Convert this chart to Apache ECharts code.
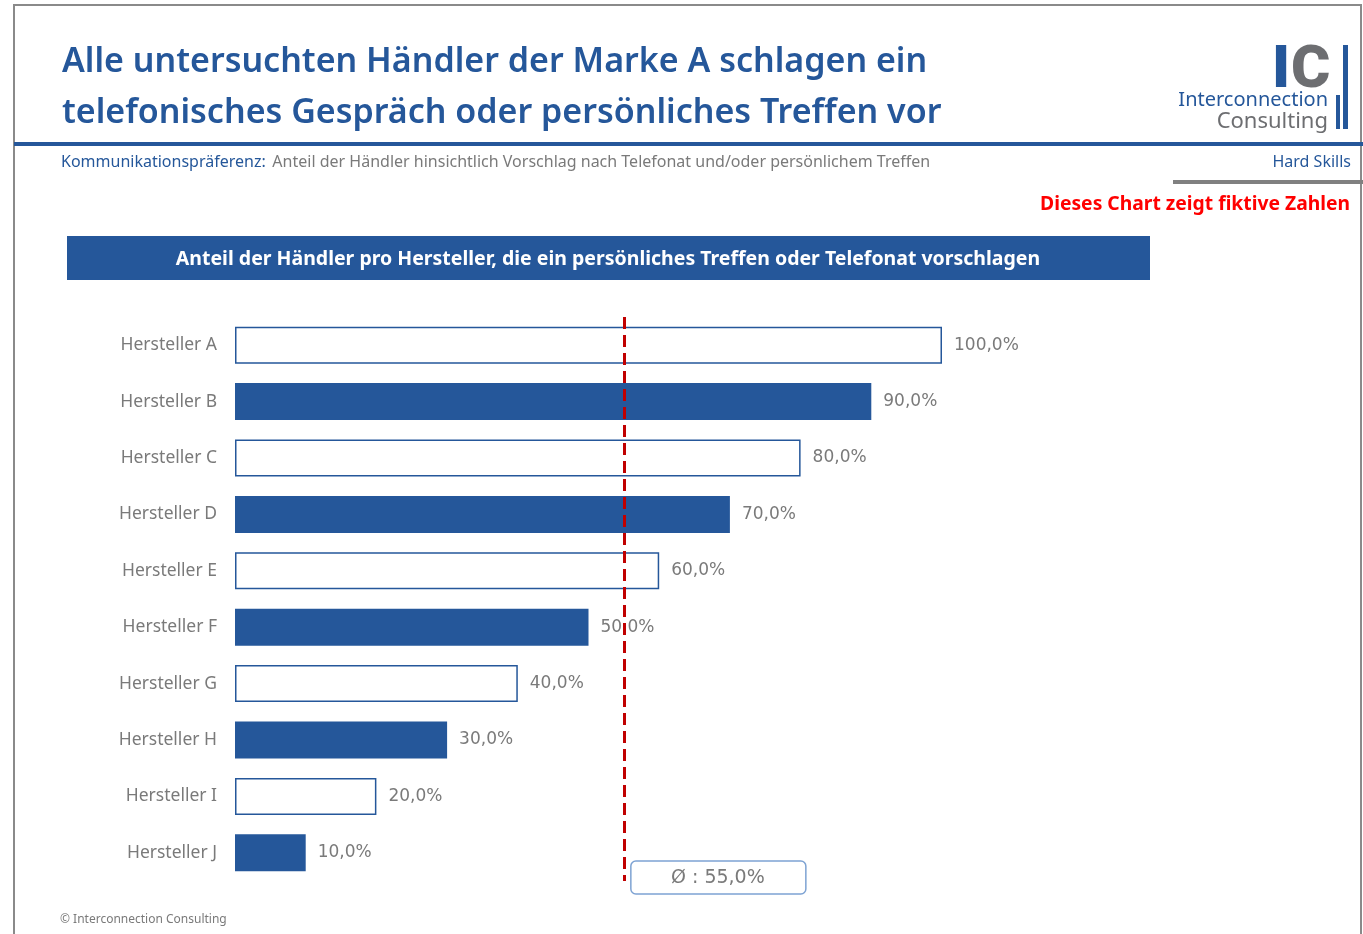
<!DOCTYPE html>
<html>
<head>
<meta charset="utf-8">
<script src="https://cdn.jsdelivr.net/npm/echarts@6/dist/echarts.min.js"></script>
<style>
  html, body { margin: 0; padding: 0; background: #fff; }
  #chart { width: 1363px; height: 934px; }
</style>
</head>
<body>
<div id="chart"></div>
<script>
// Daten
const categories = ['Hersteller A', 'Hersteller B', 'Hersteller C', 'Hersteller D', 'Hersteller E',
  'Hersteller F', 'Hersteller G', 'Hersteller H', 'Hersteller I', 'Hersteller J'];
const shares = [100.0, 90.0, 80.0, 70.0, 60.0, 50.0, 40.0, 30.0, 20.0, 10.0];
const avgShare = 55.0;

const BLUE = '#25579a';
const GRAY = '#7a7a7a';
const FONT = '"Noto Sans", Lato, sans-serif';
const NUM_FONT = '"DejaVu Sans", "Noto Sans", sans-serif';

const fmt = (v) => v.toFixed(1).replace('.', ',') + '%';

const myChart = echarts.init(document.getElementById('chart'));

const option = {
  animation: false,
  backgroundColor: '#fff',
  title: {
    text: 'Alle untersuchten Händler der Marke A schlagen ein\ntelefonisches Gespräch oder persönliches Treffen vor',
    left: 57,
    top: 32,
    textStyle: {
      color: BLUE,
      fontFamily: FONT,
      fontSize: 34,
      fontWeight: 600,
      lineHeight: 51,
    },
  },
  grid: {
    left: 235,
    right: 1363 - 942,
    top: 317,
    height: 564,
    containLabel: false,
  },
  xAxis: {
    type: 'value',
    min: 0,
    max: 100,
    show: false,
  },
  yAxis: {
    type: 'category',
    data: categories,
    inverse: true,
    axisLine: { show: false },
    axisTick: { show: false },
    axisLabel: {
      margin: 18,
      color: GRAY,
      fontFamily: FONT,
      fontSize: 17.5,
    },
  },
  series: [{
    type: 'bar',
    barWidth: 37,
    data: shares.map((v, i) => ({
      value: v,
      itemStyle: i % 2 === 0
        ? { color: '#fff', borderColor: BLUE, borderWidth: 1.5 }
        : { color: BLUE },
    })),
    label: {
      show: true,
      position: 'right',
      distance: 12,
      color: GRAY,
      fontFamily: NUM_FONT,
      fontSize: 17,
      formatter: (p) => fmt(p.value),
    },
    markLine: {
      silent: true,
      symbol: 'none',
      label: { show: false },
      lineStyle: { color: '#c00000', width: 3, type: [12, 6] },
      data: [{ xAxis: avgShare }],
    },
  }],
};

myChart.setOption(option);

// Position der Durchschnittsbox aus der Achse
const avgX = myChart.convertToPixel({ xAxisIndex: 0 }, avgShare);

myChart.setOption({
  graphic: [
    // Rahmen
    { type: 'rect', shape: { x: 14, y: 5, width: 1347, height: 960 }, style: { fill: 'none', stroke: '#8a8a8a', lineWidth: 2 }, silent: true },
    // blaue Linie unter Titel
    { type: 'rect', shape: { x: 14, y: 142, width: 1349, height: 4 }, style: { fill: BLUE } },
    // graue Linie rechts
    { type: 'rect', shape: { x: 1173, y: 180, width: 190, height: 4 }, style: { fill: '#808080' } },
    // Untertitel
    {
      type: 'text', left: 61, top: 154,
      style: {
        text: '{a|Kommunikationspräferenz:}  {b|Anteil der Händler hinsichtlich Vorschlag nach Telefonat und/oder persönlichem Treffen}',
        rich: {
          a: { fill: BLUE, fontFamily: FONT, fontSize: 16 },
          b: { fill: GRAY, fontFamily: FONT, fontSize: 16 },
        },
      },
    },
    { type: 'text', right: 12, top: 154, style: { text: 'Hard Skills', fill: BLUE, fontFamily: FONT, fontSize: 16 } },
    { type: 'text', right: 13, top: 195, style: { text: 'Dieses Chart zeigt fiktive Zahlen', fill: '#ff0000', fontFamily: FONT, fontSize: 19.3, fontWeight: 'bold' } },
    // Logo
    { type: 'text', left: 1272, top: 42, style: { text: 'I', fill: BLUE, fontFamily: 'Roboto, sans-serif', fontSize: 60, fontWeight: 900 } },
    { type: 'text', left: 1291, top: 42, style: { text: 'C', fill: '#6d6e71', fontFamily: 'Roboto, sans-serif', fontSize: 60, fontWeight: 900 } },
    { type: 'rect', shape: { x: 1343, y: 45, width: 5, height: 84 }, style: { fill: BLUE } },
    { type: 'rect', shape: { x: 1336, y: 95, width: 4, height: 34 }, style: { fill: BLUE } },
    { type: 'text', right: 35, top: 90, style: { text: 'Interconnection', fill: BLUE, fontFamily: FONT, fontSize: 20 } },
    { type: 'text', right: 35, top: 111, style: { text: 'Consulting', fill: '#6d6e71', fontFamily: FONT, fontSize: 22 } },
    // Banner
    { type: 'rect', shape: { x: 67, y: 236, width: 1083, height: 44 }, style: { fill: BLUE } },
    {
      type: 'text', x: 608, y: 259,
      style: { text: 'Anteil der Händler pro Hersteller, die ein persönliches Treffen oder Telefonat vorschlagen', fill: '#fff', fontFamily: FONT, fontSize: 19.5, fontWeight: 'bold', align: 'center', verticalAlign: 'middle' },
    },
    // Durchschnittsbox
    { type: 'rect', shape: { x: avgX + 7, y: 861, width: 175, height: 33, r: 5 }, style: { fill: '#fff', stroke: '#7ea3d3', lineWidth: 1.5 } },
    {
      type: 'text', x: avgX + 7 + 87, y: 878,
      style: { text: 'Ø : ' + fmt(avgShare), fill: GRAY, fontFamily: NUM_FONT, fontSize: 19, align: 'center', verticalAlign: 'middle' },
    },
    // Fußzeile
    { type: 'text', left: 60, top: 914, style: { text: '© Interconnection Consulting', fill: GRAY, fontFamily: FONT, fontSize: 12 } },
  ],
});
</script>
</body>
</html>
